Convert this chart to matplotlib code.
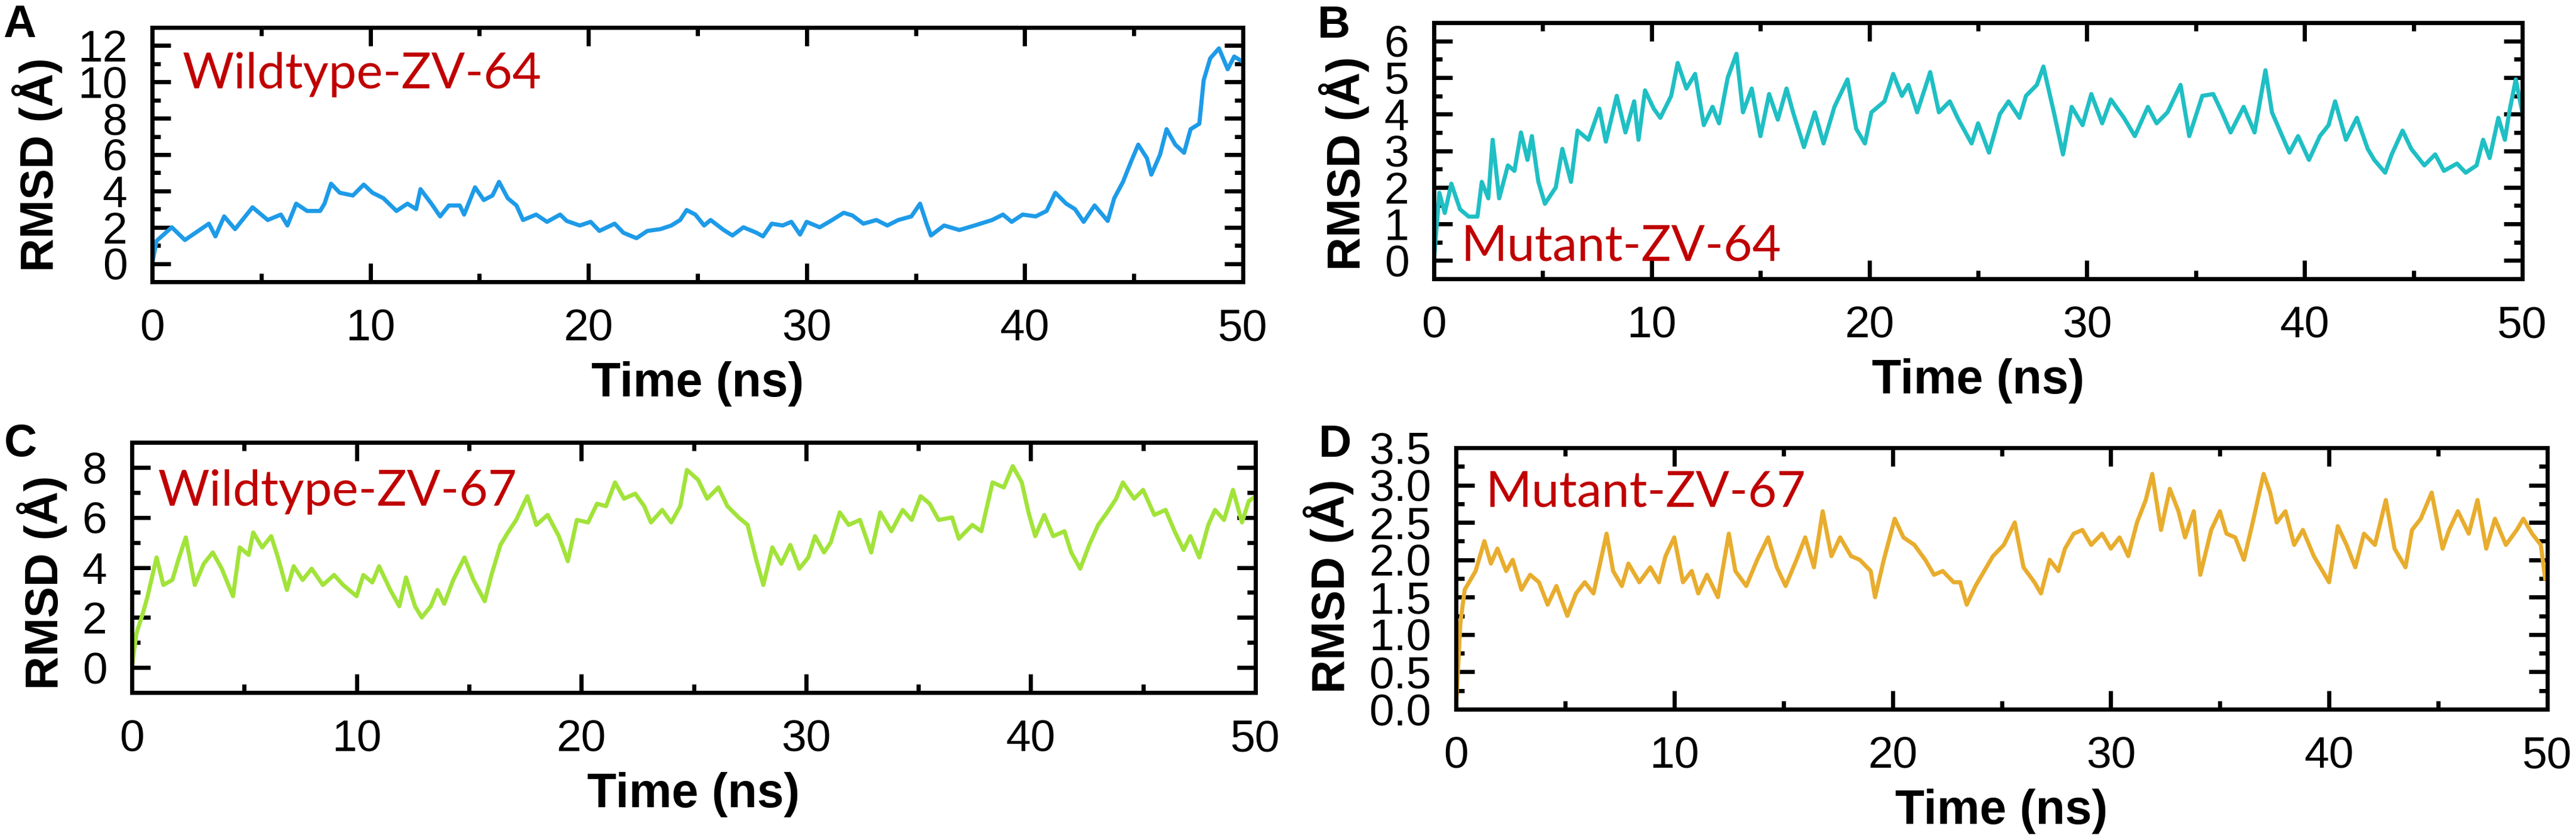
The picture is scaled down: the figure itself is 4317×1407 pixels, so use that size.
import matplotlib
matplotlib.use("Agg")
import matplotlib.pyplot as plt
from matplotlib.ticker import MultipleLocator

# RMSD traces (time in ns, RMSD in Angstrom)
t_a = [0, 0.2, 0.9, 1.5, 2.6, 2.9, 3.3, 3.8, 4.6, 5.3,
       5.9, 6.2, 6.6, 7.1, 7.7, 7.9, 8.2, 8.6, 9.2, 9.7,
       10.1, 10.6, 11.2, 11.7, 12.1, 12.3, 12.8, 13.2, 13.6, 14.1,
       14.3, 14.8, 15.2, 15.6, 15.9, 16.3, 16.7, 17.0, 17.6, 18.1,
       18.7, 19.0, 19.6, 20.1, 20.5, 21.2, 21.6, 22.2, 22.7, 23.3,
       23.8, 24.2, 24.5, 24.9, 25.3, 25.6, 26.2, 26.6, 27.1, 27.7,
       28.0, 28.4, 28.9, 29.3, 29.7, 30.0, 30.6, 31.1, 31.7, 32.1,
       32.6, 33.2, 33.7, 34.2, 34.8, 35.2, 35.5, 35.7, 36.3, 37.0,
       37.7, 38.5, 39.0, 39.4, 39.9, 40.5, 41.0, 41.4, 41.9, 42.3,
       42.7, 43.2, 43.8, 44.1, 44.5, 44.9, 45.2, 45.6, 45.8, 46.2,
       46.5, 46.9, 47.3, 47.6, 48.0, 48.2, 48.5, 48.9, 49.3, 49.6,
       50.0]
rmsd_a = [0.0, 1.25, 2.0, 1.3, 2.2, 1.5, 2.6, 1.9, 3.1, 2.4,
          2.7, 2.1, 3.3, 2.9, 2.9, 3.3, 4.4, 3.9, 3.75, 4.35,
          3.9, 3.6, 2.9, 3.3, 3.0, 4.1, 3.3, 2.6, 3.2, 3.2,
          2.7, 4.2, 3.5, 3.75, 4.5, 3.6, 3.2, 2.4, 2.7, 2.3,
          2.7, 2.35, 2.1, 2.3, 1.8, 2.2, 1.7, 1.4, 1.8, 1.9,
          2.1, 2.4, 2.95, 2.7, 2.1, 2.4, 1.85, 1.55, 2.0, 1.7,
          1.5, 2.2, 2.1, 2.3, 1.6, 2.3, 2.0, 2.35, 2.8, 2.65,
          2.2, 2.4, 2.1, 2.4, 2.6, 3.3, 2.2, 1.55, 2.1, 1.85,
          2.1, 2.4, 2.7, 2.3, 2.7, 2.6, 2.9, 3.9, 3.3, 3.0,
          2.3, 3.2, 2.35, 3.6, 4.5, 5.7, 6.55, 5.8, 4.9, 6.0,
          7.4, 6.55, 6.1, 7.4, 7.7, 10.1, 11.3, 11.85, 10.7, 11.4,
          11.1]

t_b = [0, 0.25, 0.5, 0.8, 1.2, 1.6, 2.0, 2.2, 2.5, 2.7,
       3.0, 3.4, 3.7, 4.0, 4.3, 4.5, 4.8, 5.1, 5.6, 5.9,
       6.3, 6.6, 7.1, 7.6, 7.9, 8.4, 8.8, 9.2, 9.4, 9.7,
       10.1, 10.4, 10.9, 11.2, 11.6, 12.0, 12.4, 12.8, 13.1, 13.5,
       13.9, 14.2, 14.6, 15.0, 15.4, 15.8, 16.2, 16.5, 17.0, 17.5,
       17.9, 18.4, 19.0, 19.4, 19.8, 20.1, 20.7, 21.1, 21.5, 21.8,
       22.2, 22.8, 23.2, 23.7, 24.1, 24.7, 25.0, 25.5, 26.0, 26.4,
       26.9, 27.2, 27.7, 28.0, 28.5, 28.9, 29.3, 29.8, 30.2, 30.7,
       31.1, 31.7, 32.2, 32.8, 33.2, 33.7, 34.3, 34.7, 35.3, 35.8,
       36.2, 36.6, 37.2, 37.7, 38.2, 38.5, 38.9, 39.3, 39.7, 40.2,
       40.7, 41.1, 41.4, 41.9, 42.4, 42.9, 43.2, 43.7, 44.0, 44.5,
       44.9, 45.5, 46.0, 46.4, 47.0, 47.4, 47.9, 48.2, 48.5, 48.9,
       49.2, 49.4, 49.7, 50.0]
rmsd_b = [0.0, 1.85, 1.3, 2.1, 1.4, 1.2, 1.2, 2.15, 1.7, 3.3,
          1.7, 2.6, 2.45, 3.5, 2.75, 3.4, 2.15, 1.55, 2.0, 3.05,
          2.15, 3.55, 3.3, 4.15, 3.25, 4.5, 3.5, 4.35, 3.3, 4.65,
          4.15, 3.9, 4.5, 5.4, 4.7, 5.1, 3.7, 4.2, 3.75, 5.0,
          5.65, 4.05, 4.7, 3.4, 4.55, 3.85, 4.7, 4.05, 3.1, 4.05,
          3.2, 4.2, 4.95, 3.6, 3.2, 4.05, 4.35, 5.1, 4.5, 4.8,
          4.05, 5.15, 4.05, 4.35, 3.85, 3.2, 3.75, 2.95, 4.0, 4.35,
          3.9, 4.5, 4.8, 5.3, 4.0, 2.9, 4.2, 3.7, 4.55, 3.75,
          4.4, 3.9, 3.4, 4.2, 3.75, 4.05, 4.8, 3.4, 4.5, 4.55,
          4.05, 3.5, 4.2, 3.5, 5.2, 4.05, 3.5, 2.95, 3.4, 2.75,
          3.4, 3.7, 4.35, 3.3, 3.9, 3.05, 2.75, 2.4, 2.9, 3.55,
          3.05, 2.6, 2.9, 2.45, 2.65, 2.4, 2.6, 3.3, 2.8, 3.9,
          3.3, 4.05, 4.95, 4.05]

t_c = [0, 0.2, 0.5, 0.7, 1.1, 1.4, 1.8, 2.1, 2.4, 2.8,
       3.2, 3.6, 4.0, 4.5, 4.8, 5.2, 5.4, 5.8, 6.2, 6.5,
       6.9, 7.2, 7.6, 8.0, 8.5, 9.0, 9.4, 10.0, 10.3, 10.7,
       11.0, 11.5, 11.9, 12.2, 12.6, 12.9, 13.3, 13.6, 13.9, 14.3,
       14.8, 15.2, 15.7, 16.0, 16.4, 16.7, 17.1, 17.6, 18.0, 18.5,
       19.0, 19.4, 19.8, 20.3, 20.7, 21.1, 21.5, 21.9, 22.4, 22.8,
       23.1, 23.6, 24.0, 24.4, 24.7, 25.2, 25.6, 26.1, 26.5, 27.0,
       27.4, 27.8, 28.1, 28.5, 28.9, 29.3, 29.7, 30.1, 30.4, 30.8,
       31.1, 31.5, 31.9, 32.4, 32.9, 33.3, 33.8, 34.3, 34.7, 35.1,
       35.5, 35.9, 36.5, 36.8, 37.4, 37.8, 38.3, 38.8, 39.2, 39.6,
       39.9, 40.2, 40.6, 41.0, 41.5, 41.8, 42.2, 42.6, 43.0, 43.4,
       43.8, 44.1, 44.6, 45.0, 45.5, 46.0, 46.4, 46.8, 47.1, 47.5,
       47.9, 48.2, 48.6, 49.0, 49.4, 49.7, 50.0]
rmsd_c = [0.0, 1.35, 2.2, 2.85, 4.4, 3.3, 3.5, 4.4, 5.2, 3.3,
          4.15, 4.6, 3.95, 2.85, 4.8, 4.5, 5.4, 4.8, 5.25, 4.4,
          3.1, 4.05, 3.5, 3.95, 3.3, 3.7, 3.3, 2.85, 3.7, 3.4,
          4.05, 3.1, 2.45, 3.6, 2.45, 2.0, 2.45, 3.1, 2.55, 3.5,
          4.4, 3.5, 2.65, 3.7, 4.9, 5.35, 5.9, 6.85, 5.7, 6.1,
          5.25, 4.25, 5.9, 5.8, 6.55, 6.45, 7.4, 6.75, 6.95, 6.45,
          5.8, 6.3, 5.8, 6.45, 7.9, 7.5, 6.75, 7.2, 6.45, 6.0,
          5.7, 4.25, 3.3, 4.8, 4.15, 4.9, 3.95, 4.4, 5.25, 4.6,
          5.0, 6.2, 5.7, 5.9, 4.6, 6.2, 5.45, 6.3, 5.9, 6.85,
          6.55, 5.9, 6.0, 5.15, 5.7, 5.45, 7.4, 7.2, 8.05, 7.4,
          6.2, 5.25, 6.1, 5.25, 5.45, 4.6, 3.95, 4.9, 5.7, 6.2,
          6.75, 7.4, 6.75, 7.1, 6.1, 6.3, 5.45, 4.7, 5.25, 4.4,
          5.7, 6.3, 5.9, 7.1, 5.8, 6.65, 6.85]

t_d = [0, 0.2, 0.4, 0.7, 0.9, 1.3, 1.6, 1.9, 2.3, 2.6,
       3.0, 3.4, 3.8, 4.2, 4.6, 5.1, 5.5, 5.9, 6.3, 6.9,
       7.2, 7.6, 7.9, 8.4, 8.9, 9.3, 9.6, 10.0, 10.4, 10.8,
       11.1, 11.5, 12.0, 12.5, 12.8, 13.3, 13.8, 14.3, 14.7, 15.1,
       15.6, 16.0, 16.4, 16.8, 17.2, 17.6, 18.1, 18.5, 19.0, 19.2,
       19.6, 20.1, 20.5, 21.0, 21.5, 21.9, 22.3, 22.8, 23.1, 23.4,
       23.8, 24.3, 24.6, 25.1, 25.6, 26.0, 26.5, 26.8, 27.2, 27.6,
       27.9, 28.3, 28.7, 29.1, 29.6, 30.0, 30.4, 30.8, 31.2, 31.6,
       31.9, 32.3, 32.7, 33.1, 33.4, 33.8, 34.1, 34.6, 35.0, 35.3,
       35.7, 36.1, 36.5, 37.0, 37.3, 37.6, 38.0, 38.4, 38.8, 39.3,
       39.7, 40.0, 40.4, 40.8, 41.2, 41.6, 42.1, 42.6, 43.0, 43.5,
       43.8, 44.2, 44.7, 45.2, 45.5, 45.9, 46.4, 46.8, 47.2, 47.6,
       48.1, 48.6, 48.9, 49.3, 49.7, 49.9]
rmsd_d = [0.0, 1.15, 1.6, 1.75, 1.85, 2.25, 1.95, 2.15, 1.85, 2.0,
          1.6, 1.8, 1.7, 1.4, 1.65, 1.25, 1.55, 1.7, 1.55, 2.35,
          1.85, 1.65, 1.95, 1.7, 1.9, 1.7, 2.05, 2.3, 1.7, 1.85,
          1.55, 1.8, 1.5, 2.35, 1.85, 1.65, 2.0, 2.3, 1.9, 1.65,
          2.0, 2.3, 1.9, 2.65, 2.05, 2.3, 2.05, 2.0, 1.85, 1.5,
          2.0, 2.55, 2.3, 2.2, 2.0, 1.8, 1.85, 1.7, 1.7, 1.4,
          1.65, 1.9, 2.05, 2.2, 2.5, 1.9, 1.7, 1.55, 2.0, 1.85,
          2.15, 2.35, 2.4, 2.2, 2.35, 2.15, 2.3, 2.05, 2.5, 2.8,
          3.15, 2.4, 2.95, 2.65, 2.3, 2.65, 1.8, 2.4, 2.65, 2.35,
          2.3, 2.0, 2.5, 3.15, 2.9, 2.5, 2.65, 2.2, 2.4, 2.05,
          1.85, 1.7, 2.45, 2.2, 1.9, 2.35, 2.2, 2.8, 2.15, 1.9,
          2.4, 2.55, 2.9, 2.15, 2.4, 2.65, 2.35, 2.8, 2.15, 2.55,
          2.2, 2.4, 2.55, 2.35, 2.2, 1.75]

panel_letters = ["A", "B", "C", "D"]
system_names = ["Wildtype-ZV-64", "Mutant-ZV-64", "Wildtype-ZV-67", "Mutant-ZV-67"]
line_colors = ["#1e9be8", "#1fbfc4", "#a2e33a", "#e8ad2e"]

W, H = 4317, 1407
fig = plt.figure(figsize=(W / 100, H / 100), dpi=100)

tick_font = ["Liberation Sans Narrow", "DejaVu Sans Condensed", "Liberation Sans"]
label_font = ["Liberation Sans", "DejaVu Sans"]
name_font = ["Lato", "Open Sans", "DejaVu Sans"]

# axes boxes in pixels: left, right, top, bottom
boxes = [(255, 2083, 46, 472), (2403, 4227, 38, 467),
         (221, 2104, 741, 1160), (2440, 4269, 750, 1188)]
ylims = [(-1, 13), (-0.5, 6.5), (-1, 9), (0, 3.5)]
ymajor = [2, 1, 2, 0.5]
yminor = [1, 0.5, 1, 0.25]
ylabel_y = [0.46, 0.45, 0.44, 0.47]
letter_pos = [(5, 7), (2208, 8), (7, 709), (2210, 710)]
name_pos = [(0.028, 0.76), (0.025, 0.07), (0.023, 0.747), (0.027, 0.776)]

series = [(t_a, rmsd_a), (t_b, rmsd_b), (t_c, rmsd_c), (t_d, rmsd_d)]

for i, (t, r) in enumerate(series):
    l, rr, top, bot = boxes[i]
    ax = fig.add_axes([l / W, 1 - bot / H, (rr - l) / W, (bot - top) / H])
    ax.plot(t, r, color=line_colors[i], lw=5, solid_joinstyle="round")
    ax.set_xlim(0, 50)
    ax.set_ylim(*ylims[i])
    ax.xaxis.set_major_locator(MultipleLocator(10))
    ax.xaxis.set_minor_locator(MultipleLocator(5))
    ax.yaxis.set_major_locator(MultipleLocator(ymajor[i]))
    ax.yaxis.set_minor_locator(MultipleLocator(yminor[i]))
    for s in ax.spines.values():
        s.set_linewidth(5)
    ax.tick_params(which="both", direction="in", top=True, right=True, width=5)
    ax.tick_params(which="major", length=22)
    ax.tick_params(which="minor", length=10)
    ax.tick_params(axis="y", which="major", pad=30)
    ax.tick_params(axis="x", which="major", pad=32)
    for lab in ax.get_xticklabels() + ax.get_yticklabels():
        lab.set_family(tick_font)
        lab.set_fontsize(54)
    ax.set_xlabel("Time (ns)", family=label_font, fontsize=58,
                  fontweight="bold", labelpad=14)
    ax.set_ylabel("RMSD (Å)", family=label_font, fontsize=56,
                  fontweight="bold", labelpad=18, y=ylabel_y[i])
    ax.text(name_pos[i][0], name_pos[i][1], system_names[i], transform=ax.transAxes,
            color="#c00000", fontsize=60, family=name_font, va="baseline", ha="left")
    fig.text(letter_pos[i][0] / W, 1 - letter_pos[i][1] / H, panel_letters[i],
             family=label_font, fontsize=55, fontweight="bold", va="top", ha="left")

fig.savefig("out.png", dpi=100)
